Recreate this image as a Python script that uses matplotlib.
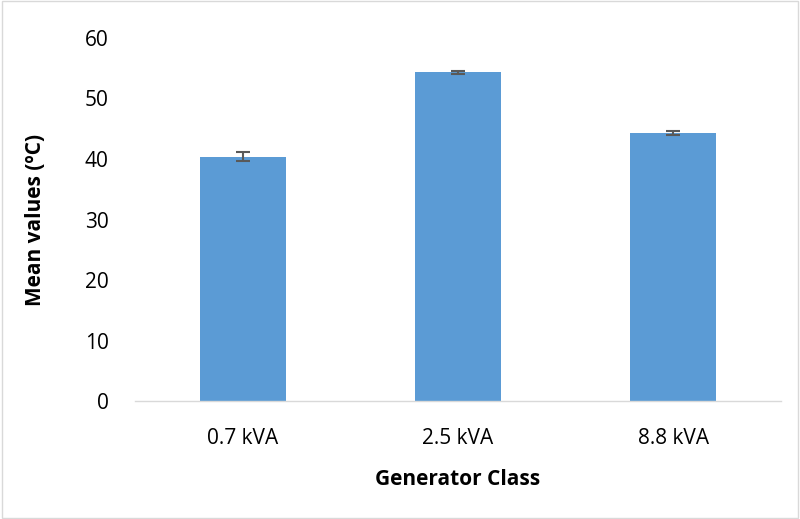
import matplotlib
matplotlib.use('Agg')
import matplotlib.pyplot as plt
from matplotlib.patches import Rectangle

# Mean temperature per generator class
classes = ['0.7 kVA', '2.5 kVA', '8.8 kVA']
means = [40.4, 54.3, 44.3]
errors = [0.8, 0.3, 0.4]

plt.rcParams['font.family'] = ['Open Sans', 'DejaVu Sans']

fig = plt.figure(figsize=(8.0, 5.19), dpi=100, facecolor='white')
ax = fig.add_axes([0.169, 0.227, 0.807, 0.700])

x = range(len(classes))
ax.bar(x, means, width=0.4, color='#5b9bd5', zorder=2)
ax.errorbar(x, means, yerr=errors, fmt='none', ecolor='#595959',
            elinewidth=1.5, capsize=5, capthick=1.5, zorder=3)

ax.set_xlim(-0.5, 2.5)
ax.set_ylim(0, 60)
ax.set_yticks(range(0, 61, 10))
ax.set_xticks(list(x))
ax.set_xticklabels(classes)
ax.tick_params(axis='both', length=0, labelsize=15, colors='#000000')
ax.tick_params(axis='x', pad=19)
ax.tick_params(axis='y', pad=19)

for s in ['top', 'right', 'left']:
    ax.spines[s].set_visible(False)
ax.spines['bottom'].set_color('#d9d9d9')
ax.spines['bottom'].set_linewidth(1)

ax.set_xlabel('Generator Class', fontsize=15, fontweight='bold', labelpad=15)
ax.set_ylabel('Mean values (ºC)', fontsize=15, fontweight='bold', labelpad=28)

# light frame around the chart area
fig.patches.append(Rectangle((0.002, 0.002), 0.996, 0.996, transform=fig.transFigure,
                             fill=False, edgecolor='#d9d9d9', linewidth=1))

fig.savefig('out.png', dpi=100, facecolor='white')
